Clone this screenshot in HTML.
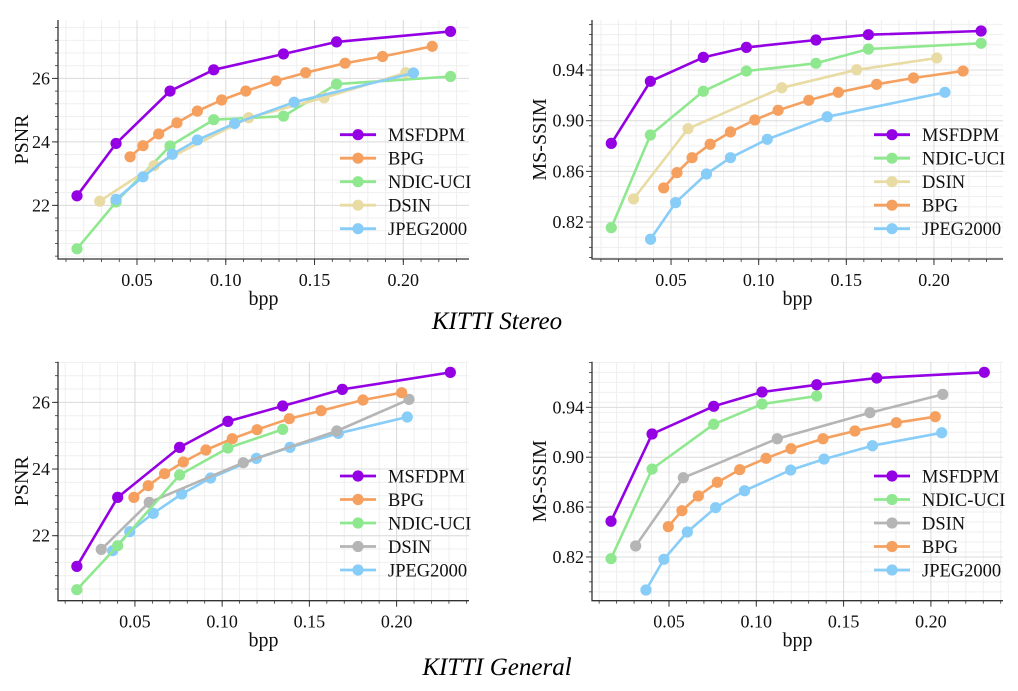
<!DOCTYPE html>
<html><head><meta charset="utf-8"><style>
html,body{margin:0;padding:0;background:#fff;}
svg{display:block;font-family:"Liberation Serif",serif;}
</style></head><body>
<svg id="fig" width="1018" height="691" viewBox="0 0 1018 691">
<text x="497" y="329" font-size="25" font-style="italic" text-anchor="middle">KITTI Stereo</text>
<text x="497" y="675" font-size="25" font-style="italic" text-anchor="middle">KITTI General</text>
</svg>
<script>
// ---- Data: KITTI Stereo PSNR ----
const s1_msfdpm_x=[0.0162,0.0382,0.0686,0.0932,0.1325,0.1624,0.2266];
const s1_msfdpm_y=[22.30,23.95,25.60,26.27,26.77,27.15,27.48];
const s1_bpg_x=[0.0461,0.0534,0.0622,0.0725,0.084,0.0977,0.1113,0.1283,0.145,0.1672,0.1883,0.2163];
const s1_bpg_y=[23.53,23.88,24.25,24.60,24.97,25.32,25.60,25.92,26.18,26.48,26.69,27.01];
const s1_ndic_x=[0.0162,0.0382,0.0686,0.0932,0.1325,0.1624,0.2266];
const s1_ndic_y=[20.63,22.11,23.87,24.70,24.81,25.82,26.06];
const s1_dsin_x=[0.029,0.0596,0.1129,0.1554,0.2014];
const s1_dsin_y=[22.13,23.25,24.76,25.39,26.18];
const s1_jpeg_x=[0.0382,0.0534,0.0699,0.084,0.105,0.1385,0.2057];
const s1_jpeg_y=[22.19,22.90,23.61,24.06,24.58,25.25,26.17];
// ---- Data: KITTI Stereo MS-SSIM ----
const s2_msfdpm_x=[0.0159,0.0382,0.0684,0.093,0.1327,0.1626,0.2269];
const s2_msfdpm_y=[0.8821,0.9311,0.950,0.9579,0.9637,0.9679,0.9708];
const s2_ndic_x=[0.0159,0.0382,0.0684,0.093,0.1327,0.1626,0.2269];
const s2_ndic_y=[0.8155,0.8887,0.9232,0.9392,0.9453,0.9566,0.9611];
const s2_dsin_x=[0.0286,0.0597,0.1132,0.1559,0.2016];
const s2_dsin_y=[0.8382,0.8937,0.926,0.9402,0.9495];
const s2_bpg_x=[0.0458,0.0534,0.062,0.0723,0.0839,0.0978,0.1111,0.1286,0.1454,0.1673,0.1883,0.2166];
const s2_bpg_y=[0.8469,0.8590,0.8708,0.8814,0.8911,0.9006,0.9082,0.9161,0.9224,0.9287,0.9337,0.9392];
const s2_jpeg_x=[0.0383,0.0526,0.0702,0.0839,0.1049,0.1391,0.2063];
const s2_jpeg_y=[0.8064,0.8353,0.8579,0.8708,0.8853,0.9031,0.9224];
// ---- Data: KITTI General PSNR ----
const g1_msfdpm_x=[0.0167,0.0401,0.0756,0.1033,0.1347,0.1689,0.2308];
const g1_msfdpm_y=[21.08,23.15,24.65,25.43,25.89,26.39,26.90];
const g1_bpg_x=[0.0494,0.0576,0.067,0.0777,0.0907,0.1058,0.12,0.1385,0.1567,0.1807,0.2029];
const g1_bpg_y=[23.15,23.50,23.86,24.21,24.57,24.91,25.18,25.51,25.75,26.07,26.29];
const g1_ndic_x=[0.0167,0.0401,0.0756,0.1033,0.1347];
const g1_ndic_y=[20.38,21.70,23.82,24.63,25.19];
const g1_dsin_x=[0.0307,0.0582,0.1121,0.1657,0.2071];
const g1_dsin_y=[21.59,23.0,24.19,25.14,26.09];
const g1_jpeg_x=[0.0372,0.047,0.0605,0.0768,0.0934,0.1196,0.1389,0.1666,0.2061];
const g1_jpeg_y=[21.55,22.12,22.67,23.25,23.73,24.32,24.65,25.07,25.56];
// ---- Data: KITTI General MS-SSIM ----
const g2_msfdpm_x=[0.0168,0.0403,0.0756,0.1033,0.1346,0.169,0.2306];
const g2_msfdpm_y=[0.8486,0.9186,0.9408,0.9523,0.9581,0.9635,0.9681];
const g2_ndic_x=[0.0168,0.0403,0.0756,0.1033,0.1346];
const g2_ndic_y=[0.8186,0.8905,0.9264,0.9426,0.9491];
const g2_dsin_x=[0.0309,0.0582,0.112,0.1651,0.2068];
const g2_dsin_y=[0.8288,0.8835,0.9148,0.9357,0.9504];
const g2_bpg_x=[0.0496,0.0574,0.0668,0.0777,0.0905,0.1056,0.1199,0.1382,0.1565,0.1802,0.2025];
const g2_bpg_y=[0.8443,0.8571,0.8689,0.8799,0.8900,0.8991,0.9068,0.9148,0.9210,0.9277,0.9325];
const g2_jpeg_x=[0.0368,0.0471,0.0605,0.0767,0.0933,0.1197,0.1388,0.1665,0.2062];
const g2_jpeg_y=[0.7935,0.8181,0.8400,0.8595,0.8731,0.8897,0.8985,0.9092,0.9196];
// ---- Ticks ----
const xTickLabels=["0.05","0.10","0.15","0.20"];
const xTickValues=[0.05,0.10,0.15,0.20];
const psnrTicks=[22,24,26];
const ssimTicks=[0.82,0.86,0.90,0.94];
const ssimTickLabels=["0.82","0.86","0.90","0.94"];

const C={MSFDPM:"#9400e3",BPG:"#f5a05e",NDIC:"#8fe88f",DSIN:"#e8dba3",JPEG:"#87cdf8",GREY:"#b5b5b5"};
const NS="http://www.w3.org/2000/svg";
const svg=document.getElementById('fig');
function mk(tag,attrs,parent){const e=document.createElementNS(NS,tag);for(const k in attrs)e.setAttribute(k,attrs[k]);(parent||svg).appendChild(e);return e;}

function drawChart(cfg){
  const g=mk('g',{});
  
  
  const X=v=>cfg.L+(v-cfg.xmin)/(cfg.xmax-cfg.xmin)*(cfg.R-cfg.L);
  const Y=v=>cfg.B-(v-cfg.ymin)/(cfg.ymax-cfg.ymin)*(cfg.B-cfg.T);
  for(let v=0.01;v<cfg.xmax;v+=0.01){const x=X(v);if(x<cfg.L)continue;
    const l=mk('line',{x1:x,x2:x,y1:cfg.T,y2:cfg.B,stroke:"#efefef","stroke-width":1},g);
    
    mk('line',{x1:x,x2:x,y1:cfg.B,y2:cfg.B+3,stroke:"#333","stroke-width":0.8},g);}
  const ys=Math.ceil(cfg.ymin/cfg.ystep);
  for(let i=ys;i*cfg.ystep<cfg.ymax;i++){const y=Y(i*cfg.ystep);
    const l=mk('line',{x1:cfg.L,x2:cfg.R,y1:y,y2:y,stroke:"#efefef","stroke-width":1},g);
    
    mk('line',{x1:cfg.L-3,x2:cfg.L,y1:y,y2:y,stroke:"#333","stroke-width":0.8},g);}
  xTickValues.forEach((v,i)=>{const x=X(v);
    const l=mk('line',{x1:x,x2:x,y1:cfg.T,y2:cfg.B,stroke:"#dcdcdc","stroke-width":1},g);
    
    mk('line',{x1:x,x2:x,y1:cfg.B,y2:cfg.B+6,stroke:"#333","stroke-width":1},g);
    const t=mk('text',{x:x,y:cfg.B+27,"font-size":18,"text-anchor":"middle",fill:"#111"},g);
    t.textContent=xTickLabels[i];
    });
  cfg.yticks.forEach((v,i)=>{const y=Y(v);
    const l=mk('line',{x1:cfg.L,x2:cfg.R,y1:y,y2:y,stroke:"#dcdcdc","stroke-width":1},g);
    
    mk('line',{x1:cfg.L-6,x2:cfg.L,y1:y,y2:y,stroke:"#333","stroke-width":1},g);
    const t=mk('text',{x:cfg.L-8,y:y+6,"font-size":18,"text-anchor":"end",fill:"#111"},g);
    t.textContent=cfg.ylabels[i];
    });
  const sp=mk('path',{d:`M${cfg.L},${cfg.T}V${cfg.B}H${cfg.R}`,fill:"none",stroke:"#333","stroke-width":1.3},g);
  
  const xl=mk('text',{x:(cfg.L+cfg.R)/2,y:cfg.B+46,"font-size":20,"text-anchor":"middle",fill:"#111"},g);
  xl.textContent="bpp";
  
  const yl=mk('text',{x:0,y:0,"font-size":20,"text-anchor":"middle",fill:"#111",transform:`translate(${cfg.ylx},${(cfg.T+cfg.B)/2}) rotate(-90)`},g);
  yl.textContent=cfg.ytitle;
  
  cfg.series.forEach(s=>{
    const sg=mk('g',{},g);
    
    
    const pts=s.x.map((v,i)=>X(v).toFixed(1)+","+Y(s.y[i]).toFixed(1)).join(" ");
    const pl=mk('polyline',{points:pts,fill:"none",stroke:s.color,"stroke-width":2.6,"stroke-linejoin":"round"},sg);
    
    s.x.forEach((v,i)=>{const c=mk('circle',{cx:X(v),cy:Y(s.y[i]),r:5.6,fill:s.color},sg);
      });
  });
  const lg=mk('g',{},g);
  
  cfg.legend.forEach((s,i)=>{const y=cfg.legY+i*23.5;
    const e=mk('g',{},lg);
    
    mk('line',{x1:cfg.legX,x2:cfg.legX+36,y1:y,y2:y,stroke:s.color,"stroke-width":2.8},e);
    mk('circle',{cx:cfg.legX+18,cy:y,r:5.6,fill:s.color},e);
    const t=mk('text',{x:cfg.legX+48,y:y+6.5,"font-size":18.5,fill:"#111"},e);t.textContent=s.label;});
}

const S=(label,x,y,color)=>({label,x,y,color});
let ser;
ser=[S("NDIC-UCI",s1_ndic_x,s1_ndic_y,C.NDIC),S("DSIN",s1_dsin_x,s1_dsin_y,C.DSIN),S("JPEG2000",s1_jpeg_x,s1_jpeg_y,C.JPEG),S("BPG",s1_bpg_x,s1_bpg_y,C.BPG),S("MSFDPM",s1_msfdpm_x,s1_msfdpm_y,C.MSFDPM)];
drawChart({name:"chart-stereo-psnr",L:58,R:469,T:20,B:259,xmin:0.0055,xmax:0.237,ymin:20.31,ymax:27.84,ystep:0.4,yticks:psnrTicks,ylabels:psnrTicks.map(String),ytitle:"PSNR",ylx:28,
  series:ser,legend:[ser[4],ser[3],ser[0],ser[1],ser[2]],legX:340,legY:134.7});
ser=[S("JPEG2000",s2_jpeg_x,s2_jpeg_y,C.JPEG),S("BPG",s2_bpg_x,s2_bpg_y,C.BPG),S("DSIN",s2_dsin_x,s2_dsin_y,C.DSIN),S("NDIC-UCI",s2_ndic_x,s2_ndic_y,C.NDIC),S("MSFDPM",s2_msfdpm_x,s2_msfdpm_y,C.MSFDPM)];
drawChart({name:"chart-stereo-msssim",L:592,R:1003,T:20,B:259,xmin:0.0049,xmax:0.2394,ymin:0.7908,ymax:0.9795,ystep:0.008,yticks:ssimTicks,ylabels:ssimTickLabels,ytitle:"MS-SSIM",ylx:546,
  series:ser,legend:[ser[4],ser[3],ser[2],ser[1],ser[0]],legX:874,legY:134.7});
ser=[S("JPEG2000",g1_jpeg_x,g1_jpeg_y,C.JPEG),S("DSIN",g1_dsin_x,g1_dsin_y,C.GREY),S("NDIC-UCI",g1_ndic_x,g1_ndic_y,C.NDIC),S("BPG",g1_bpg_x,g1_bpg_y,C.BPG),S("MSFDPM",g1_msfdpm_x,g1_msfdpm_y,C.MSFDPM)];
drawChart({name:"chart-general-psnr",L:58,R:469,T:361.7,B:600.7,xmin:0.0059,xmax:0.2415,ymin:20.05,ymax:27.22,ystep:0.4,yticks:psnrTicks,ylabels:psnrTicks.map(String),ytitle:"PSNR",ylx:28,
  series:ser,legend:[ser[4],ser[3],ser[2],ser[1],ser[0]],legX:340,legY:476});
ser=[S("JPEG2000",g2_jpeg_x,g2_jpeg_y,C.JPEG),S("BPG",g2_bpg_x,g2_bpg_y,C.BPG),S("DSIN",g2_dsin_x,g2_dsin_y,C.GREY),S("NDIC-UCI",g2_ndic_x,g2_ndic_y,C.NDIC),S("MSFDPM",g2_msfdpm_x,g2_msfdpm_y,C.MSFDPM)];
drawChart({name:"chart-general-msssim",L:592,R:1003,T:361.7,B:600.7,xmin:0.0059,xmax:0.2413,ymin:0.7849,ymax:0.9766,ystep:0.008,yticks:ssimTicks,ylabels:ssimTickLabels,ytitle:"MS-SSIM",ylx:546,
  series:ser,legend:[ser[4],ser[3],ser[2],ser[1],ser[0]],legX:874,legY:476});
</script>
</body></html>
